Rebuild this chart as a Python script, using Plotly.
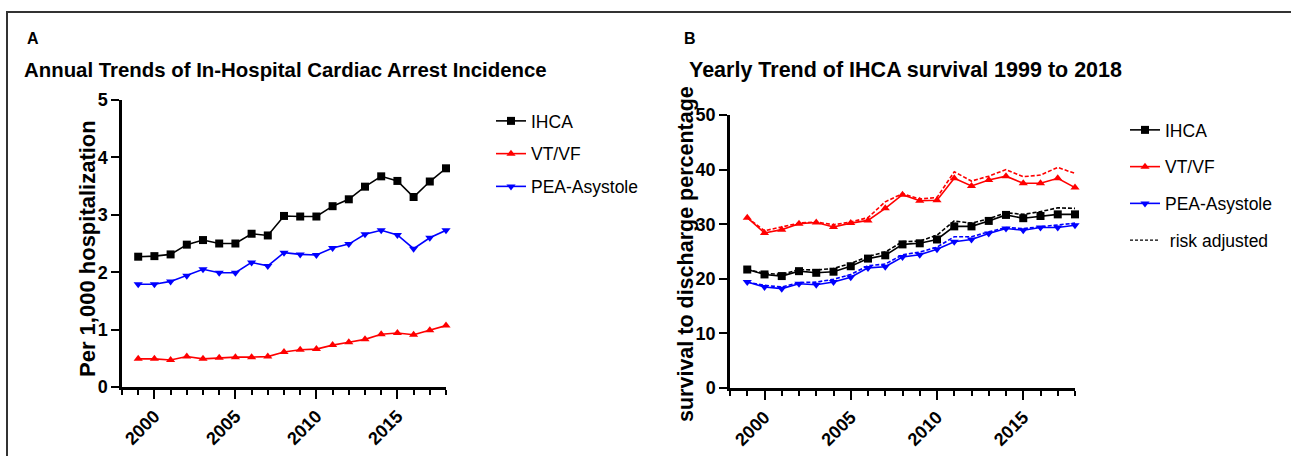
import plotly.graph_objects as go

years = [1999, 2000, 2001, 2002, 2003, 2004, 2005, 2006, 2007, 2008,
         2009, 2010, 2011, 2012, 2013, 2014, 2015, 2016, 2017, 2018]

# Panel A: incidence per 1,000 hospitalizations
inc_ihca = [2.27, 2.28, 2.31, 2.48, 2.56, 2.50, 2.50, 2.67, 2.64, 2.98,
            2.97, 2.97, 3.15, 3.27, 3.49, 3.67, 3.59, 3.31, 3.58, 3.81]
inc_vtvf = [0.49, 0.49, 0.47, 0.53, 0.49, 0.51, 0.52, 0.52, 0.53, 0.61,
            0.65, 0.66, 0.73, 0.78, 0.83, 0.92, 0.94, 0.91, 0.99, 1.07]
inc_pea = [1.79, 1.79, 1.84, 1.94, 2.05, 1.99, 1.99, 2.17, 2.11, 2.34,
           2.31, 2.30, 2.42, 2.49, 2.66, 2.73, 2.65, 2.41, 2.60, 2.73]

# Panel B: survival to discharge (%)
surv_ihca = [21.7, 20.8, 20.5, 21.4, 21.1, 21.3, 22.3, 23.7, 24.3, 26.3,
             26.5, 27.2, 29.6, 29.6, 30.6, 31.7, 31.1, 31.5, 31.8, 31.8]
surv_ihca_adj = [21.7, 21.0, 20.8, 21.7, 21.6, 21.9, 22.8, 24.1, 24.9, 26.8,
                 26.9, 28.0, 30.6, 30.2, 31.0, 32.1, 31.8, 32.3, 33.0, 32.9]
surv_vtvf = [31.2, 28.4, 29.0, 30.1, 30.3, 29.5, 30.2, 30.7, 32.9, 35.4,
             34.3, 34.4, 38.4, 37.0, 38.1, 38.8, 37.5, 37.5, 38.4, 36.7]
surv_vtvf_adj = [31.2, 28.8, 29.5, 30.2, 30.4, 29.9, 30.4, 31.2, 34.1, 35.6,
                 34.6, 34.9, 39.6, 37.9, 38.8, 40.0, 38.7, 39.0, 40.4, 39.3]
surv_pea = [19.4, 18.5, 18.2, 19.1, 18.9, 19.4, 20.3, 22.0, 22.2, 24.0,
            24.4, 25.4, 26.8, 27.2, 28.3, 29.2, 28.9, 29.4, 29.4, 29.8]
surv_pea_adj = [19.4, 18.8, 18.5, 19.3, 19.4, 19.9, 20.8, 22.4, 22.7, 24.4,
                24.9, 25.8, 27.7, 27.7, 28.6, 29.4, 29.2, 29.5, 29.8, 30.2]

x_ticks = [2000, 2005, 2010, 2015]
x_tick_labels = ["2000", "2005", "2010", "2015"]
ya_ticks = [0, 1, 2, 3, 4, 5]
yb_ticks = [0, 10, 20, 30, 40, 50]

W, H = 1291, 456
def px_x(p):
    return p / W
def px_y(p):
    return 1 - p / H

BOLD = "Liberation Sans, Arial, sans-serif"

fig = go.Figure()

def add_series(x, y, color, symbol, name, xa, ya, legend, dash="solid", marker=True, showlegend=True, group=None):
    fig.add_trace(go.Scatter(
        x=x, y=y, xaxis=xa, yaxis=ya, name=name,
        mode="lines+markers" if marker else "lines",
        line=dict(color=color, width=1.6, dash=dash),
        marker=dict(symbol=symbol, size=8, color=color),
        cliponaxis=False, showlegend=showlegend, legend=legend,
        legendgroup=group,
    ))

add_series(years, inc_ihca, "black", "square", "IHCA", "x", "y", "legend", group="a1")
add_series(years, inc_vtvf, "#ff0000", "triangle-up", "VT/VF", "x", "y", "legend", group="a2")
add_series(years, inc_pea, "#0000ff", "triangle-down", "PEA-Asystole", "x", "y", "legend", group="a3")

add_series(years, surv_ihca_adj, "black", "square", "IHCA adj", "x2", "y2", "legend2", dash="4px,2px", marker=False, showlegend=False)
add_series(years, surv_vtvf_adj, "#ff0000", "square", "VT/VF adj", "x2", "y2", "legend2", dash="4px,2px", marker=False, showlegend=False)
add_series(years, surv_pea_adj, "#0000ff", "square", "PEA adj", "x2", "y2", "legend2", dash="4px,2px", marker=False, showlegend=False)
add_series(years, surv_ihca, "black", "square", "IHCA", "x2", "y2", "legend2", group="b1")
add_series(years, surv_vtvf, "#ff0000", "triangle-up", "VT/VF", "x2", "y2", "legend2", group="b2")
add_series(years, surv_pea, "#0000ff", "triangle-down", "PEA-Asystole", "x2", "y2", "legend2", group="b3")
fig.add_trace(go.Scatter(x=[None], y=[None], xaxis="x2", yaxis="y2", mode="lines",
                         line=dict(color="black", width=1.2, dash="3px,2px"),
                         name=" risk adjusted", legend="legend2", legendgroup="b4"))

tickfont = dict(family=BOLD, size=18, color="black", weight="bold")
axis_common = dict(showgrid=False, zeroline=False, showline=True, linecolor="black",
                   linewidth=2.5, ticks="outside", tickcolor="black", tickwidth=2,
                   tickfont=tickfont, automargin=False)
minor_x = dict(dtick=1, tick0=1998, ticklen=5, tickcolor="black", tickwidth=2, ticks="outside")

fig.update_layout(
    width=W, height=H,
    margin=dict(l=0, r=0, t=0, b=0, autoexpand=False),
    paper_bgcolor="white", plot_bgcolor="white",
    showlegend=True,
    xaxis=dict(domain=[px_x(122), px_x(446)], range=[1998, 2018], anchor="y",
               tickvals=x_ticks, ticktext=x_tick_labels, ticklen=9, tickangle=-45,
               minor=minor_x, **axis_common),
    yaxis=dict(domain=[px_y(387), px_y(100)], range=[0, 5], anchor="x",
               tickvals=ya_ticks, ticklen=8, **axis_common),
    xaxis2=dict(domain=[px_x(730), px_x(1075)], range=[1998, 2018], anchor="y2",
                tickvals=x_ticks, ticktext=x_tick_labels, ticklen=9, tickangle=-45,
                minor=minor_x, **axis_common),
    yaxis2=dict(domain=[px_y(388), px_y(115)], range=[0, 50], anchor="x2",
                tickvals=yb_ticks, ticklen=8, **axis_common),
    legend=dict(x=px_x(491), y=px_y(103), xanchor="left", yanchor="top",
                font=dict(family=BOLD, size=17.5, color="black"),
                tracegroupgap=7, traceorder="grouped", bgcolor="rgba(0,0,0,0)"),
    legend2=dict(x=px_x(1125), y=px_y(112), xanchor="left", yanchor="top",
                 font=dict(family=BOLD, size=17.5, color="black"),
                 tracegroupgap=11, traceorder="grouped", bgcolor="rgba(0,0,0,0)"),
)

annotations = [
    dict(text="A", x=px_x(25), y=px_y(38), font=dict(family=BOLD, size=16, weight="bold")),
    dict(text="Annual Trends of In-Hospital Cardiac Arrest Incidence", x=px_x(22), y=px_y(70),
         font=dict(family=BOLD, size=20.4, weight="bold")),
    dict(text="B", x=px_x(682), y=px_y(38), font=dict(family=BOLD, size=16, weight="bold")),
    dict(text="Yearly Trend of IHCA survival 1999 to 2018", x=px_x(687), y=px_y(70),
         font=dict(family=BOLD, size=21.5, weight="bold")),
]
for a in annotations:
    a.update(xref="paper", yref="paper", xanchor="left", yanchor="middle", showarrow=False)
    a["font"].setdefault("color", "black")
    fig.add_annotation(**a)

fig.add_annotation(text="Per 1,000 hospitalization", x=px_x(87), y=px_y(249), xref="paper", yref="paper",
                   textangle=-90, showarrow=False, xanchor="center", yanchor="middle",
                   font=dict(family=BOLD, size=22, color="black", weight="bold"))
fig.add_annotation(text="survival to discharge percentage", x=px_x(686), y=px_y(254), xref="paper", yref="paper",
                   textangle=-90, showarrow=False, xanchor="center", yanchor="middle",
                   font=dict(family=BOLD, size=21.5, color="black", weight="bold"))

# outer frame: only top and left edges are visible in the picture
fig.add_shape(type="line", xref="paper", yref="paper", x0=px_x(6), y0=px_y(12), x1=1.0, y1=px_y(12),
              line=dict(color="#333333", width=2))
fig.add_shape(type="line", xref="paper", yref="paper", x0=px_x(7), y0=px_y(12), x1=px_x(7), y1=0.0,
              line=dict(color="#333333", width=2))

# place the figure flush with the window (no default body margin, no scrollbars)
fig.write_html("out.html",
               config={"displayModeBar": False},
               post_script="document.body.style.margin='0';document.body.style.overflow='hidden';")
